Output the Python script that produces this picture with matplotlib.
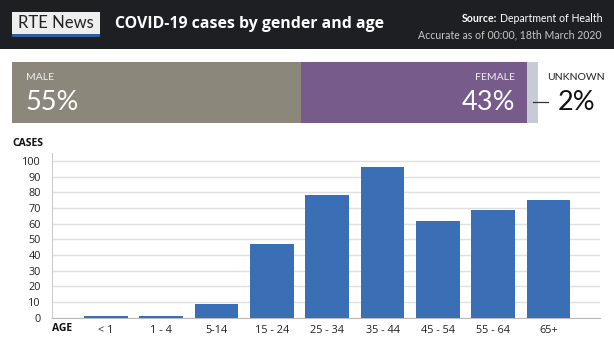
import matplotlib
matplotlib.use("Agg")
import matplotlib.pyplot as plt
from matplotlib.patches import Rectangle
from matplotlib.lines import Line2D

# ---- data ----
age_groups = ["< 1", "1 - 4", "5-14", "15 - 24", "25 - 34", "35 - 44", "45 - 54", "55 - 64", "65+"]
cases = [1, 1, 9, 47, 78, 96, 62, 69, 75]
y_ticks = [0, 10, 20, 30, 40, 50, 60, 70, 80, 90, 100]
gender_labels = ["MALE", "FEMALE", "UNKNOWN"]
gender_pct = [55, 43, 2]

W, H = 614, 345
fig = plt.figure(figsize=(W / 100, H / 100), dpi=100)
fig.patch.set_facecolor("white")

def fx(x):
    return x / W

def fy(y):
    return 1 - y / H

SANS = ["Open Sans", "DejaVu Sans"]
COND = ["Lato", "DejaVu Sans"]

# ---- header ----
fig.add_artist(Rectangle((0, fy(49)), 1, 49 / H, transform=fig.transFigure,
                         facecolor="#1e1f23", edgecolor="none", zorder=0))
# logo
fig.add_artist(Rectangle((fx(12), fy(36)), fx(100) - fx(12), 24 / H, transform=fig.transFigure,
                         facecolor="#eeeeee", edgecolor="none", zorder=1))
fig.add_artist(Rectangle((fx(12), fy(37)), fx(100) - fx(12), 3 / H, transform=fig.transFigure,
                         facecolor="#2f5d9e", edgecolor="none", zorder=2))
fig.text(fx(56), fy(23.5), "RTE News", ha="center", va="center", fontsize=12,
         color="#222222", family=COND, zorder=3)
fig.text(fx(115), fy(24.5), "COVID-19 cases by gender and age", ha="left", va="center",
         fontsize=11.4, fontweight="bold", color="white", family=SANS)
src_rest = fig.text(fx(602), fy(18.5), "Department of Health", ha="right", va="center",
                    fontsize=7.6, color="white", family=COND)
fig.canvas.draw()
bb = src_rest.get_window_extent(renderer=fig.canvas.get_renderer())
fig.text(bb.x0 / (W) - 2.5 / W, fy(18.5), "Source:", ha="right", va="center", fontsize=7.6,
         fontweight="bold", color="white", family=COND)
fig.text(fx(602), fy(35), "Accurate as of 00:00, 18th March 2020", ha="right", va="center",
         fontsize=7.6, color="#c8c8c8", family=COND)

# ---- gender bar ----
gax = fig.add_axes([fx(12), fy(123), fx(538) - fx(12), 61 / H])
gcolors = ["#8b877a", "#775b8b", "#c5ccd5"]
left = 0
for p, c in zip(gender_pct, gcolors):
    gax.barh(0, p, left=left, height=1, color=c, edgecolor="none")
    left += p
gax.set_xlim(0, sum(gender_pct))
gax.set_ylim(-0.5, 0.5)
gax.axis("off")

fig.text(fx(26), fy(78), gender_labels[0], ha="left", va="center", fontsize=7.5,
         color="#f0f0f0", family=COND)
fig.text(fx(25), fy(102), f"{gender_pct[0]}%", ha="left", va="center", fontsize=19.5,
         color="white", family=COND)
fig.text(fx(515), fy(78), gender_labels[1], ha="right", va="center", fontsize=7.5,
         color="#f0f0f0", family=COND)
fig.text(fx(515), fy(102), f"{gender_pct[1]}%", ha="right", va="center", fontsize=19.5,
         color="white", family=COND)
fig.text(fx(576), fy(78), gender_labels[2], ha="center", va="center", fontsize=7.5,
         color="#222222", family=COND)
fig.add_artist(Line2D([fx(533), fx(548)], [fy(102), fy(102)], transform=fig.transFigure,
                      color="#333333", lw=0.9))
fig.text(fx(558), fy(102), f"{gender_pct[2]}%", ha="left", va="center", fontsize=19.5,
         color="#111111", family=COND)

# ---- bar chart ----
ax = fig.add_axes([fx(52), fy(317.7), fx(600) - fx(52), (317.7 - 152.7) / H])
xpos = list(range(len(age_groups)))
ax.bar(xpos, cases, width=0.79, color="#3a6eb5", edgecolor="none", zorder=3)
ax.set_xlim(-0.976, len(age_groups) - 1 + 0.93)
ax.set_ylim(0, 105.3)
ax.set_yticks(y_ticks)
ax.set_xticks(xpos)
ax.set_xticklabels(age_groups)
ax.grid(axis="y", color="#e0e0e0", lw=1, zorder=0)
for s in ["top", "right"]:
    ax.spines[s].set_visible(False)
ax.spines["left"].set_color("#cccccc")
ax.spines["bottom"].set_color("#bbbbbb")
ax.tick_params(axis="both", length=0, labelsize=7.8, colors="#222222")
ax.tick_params(axis="y", pad=8)
ax.tick_params(axis="x", pad=5)
for lab in ax.get_xticklabels() + ax.get_yticklabels():
    lab.set_family(SANS)

fig.text(fx(12), fy(143), "CASES", ha="left", va="center", fontsize=7.5,
         fontweight="bold", color="#111111", family=SANS)
fig.text(fx(52), fy(328.5), "AGE", ha="left", va="center", fontsize=7.5,
         fontweight="bold", color="#111111", family=SANS)

fig.savefig("out.png", dpi=100, facecolor="white")
